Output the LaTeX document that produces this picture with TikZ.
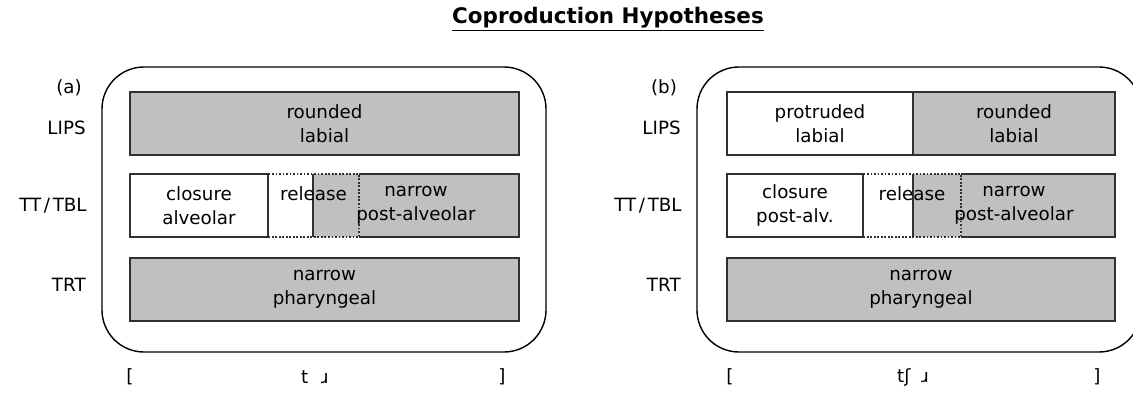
\documentclass[tikz,border=0pt]{standalone}
\usepackage{fontspec}
\setmainfont{DejaVu Sans}
\usepackage{tikz}
\definecolor{grisbarre}{HTML}{C0C0C0}
\definecolor{bordbarre}{HTML}{303030}

\begin{document}
\begin{tikzpicture}[x=0.02cm,y=-0.02cm,
		txt/.style={font=\fontsize{10.4}{13.7}\selectfont,align=center,inner sep=0pt},
		rang/.style={txt,anchor=east},
		barre/.style={draw=bordbarre,line width=0.6pt},
		barreg/.style={barre,fill=grisbarre},
		pointille/.style={draw=bordbarre,line width=0.6pt,dash pattern=on 1pt off 1pt},
		cadre/.style={draw,line width=0.8pt,rounded corners=0.84cm}]
				\useasboundingbox (0,0) rectangle (1133,393);
				% Titre
				\node[txt,font=\fontsize{12.2}{15}\selectfont] (titre) at (608,19) {\underline{\textbf{Coproduction Hypotheses}}};
				% Cadres
				\draw[cadre] (102,67) rectangle (546,352);
				\draw[cadre] (697,67) rectangle (1141,352);
				% Hypothese (a)
				\node[txt] (pa) at (69,88) {(a)};
				\node[rang] (lipsa) at (86,128) {LIPS};
				\node[rang] (tta) at (87,206) {TT\kern1.5pt/\kern1.5pt TBL};
				\node[rang] (trta) at (86,285) {TRT};
				\draw[barreg] (130,92) rectangle (519,155);
				\draw[barre,fill=white] (130,174) rectangle (268,237);
				\fill[grisbarre] (313,174) rectangle (519,237);
				\draw[barre] (359,174) -- (519,174) -- (519,237) -- (359,237);
				\draw[barre] (313,174) -- (313,237);
				\draw[pointille] (268,174) rectangle (359,237);
				\draw[barreg] (130,258) rectangle (519,321);
				\node[txt] (rounda) at (324.5,123.5) {rounded\\labial};
				\node[txt] (closa) at (199,205.5) {closure\\alveolar};
				\node[txt] (rela) at (313.5,205.5) {release\\\mbox{}};
				\node[txt] (narra) at (416,205.5) {narrow\\post-alveolar};
				\node[txt] (phara) at (324.5,289.5) {narrow\\pharyngeal};
				\node[txt] (oa) at (130,377) {[};
				\node[txt] (phona) at (315,377) {t\hspace{0.7em}ɹ};
				\node[txt] (fa) at (502,377) {]};
				% Hypothese (b)
				\node[txt] (pb) at (664,88) {(b)};
				\node[rang] (lipsb) at (681,128) {LIPS};
				\node[rang] (ttb) at (682,206) {TT\kern1.5pt/\kern1.5pt TBL};
				\node[rang] (trtb) at (681,285) {TRT};
				\draw[barre,fill=white] (727,92) rectangle (913,155);
				\draw[barreg] (913,92) rectangle (1115,155);
				\draw[barre,fill=white] (727,174) rectangle (863,237);
				\fill[grisbarre] (913,174) rectangle (1115,237);
				\draw[barre] (961,174) -- (1115,174) -- (1115,237) -- (961,237);
				\draw[barre] (913,174) -- (913,237);
				\draw[pointille] (863,174) rectangle (961,237);
				\draw[barreg] (727,258) rectangle (1115,321);
				\node[txt] (protb) at (820,123.5) {protruded\\labial};
				\node[txt] (roundb) at (1014,123.5) {rounded\\labial};
				\node[txt] (closb) at (795,205.5) {closure\\post-alv.};
				\node[txt] (relb) at (912,205.5) {release\\\mbox{}};
				\node[txt] (narrb) at (1014,205.5) {narrow\\post-alveolar};
				\node[txt] (pharb) at (921,289.5) {narrow\\pharyngeal};
				\node[txt] (ob) at (730,377) {[};
				\node[txt] (phonb) at (913,377) {tʃ\hspace{0.6em}ɹ};
				\node[txt] (fb) at (1097,377) {]};
\end{tikzpicture}
\end{document}
